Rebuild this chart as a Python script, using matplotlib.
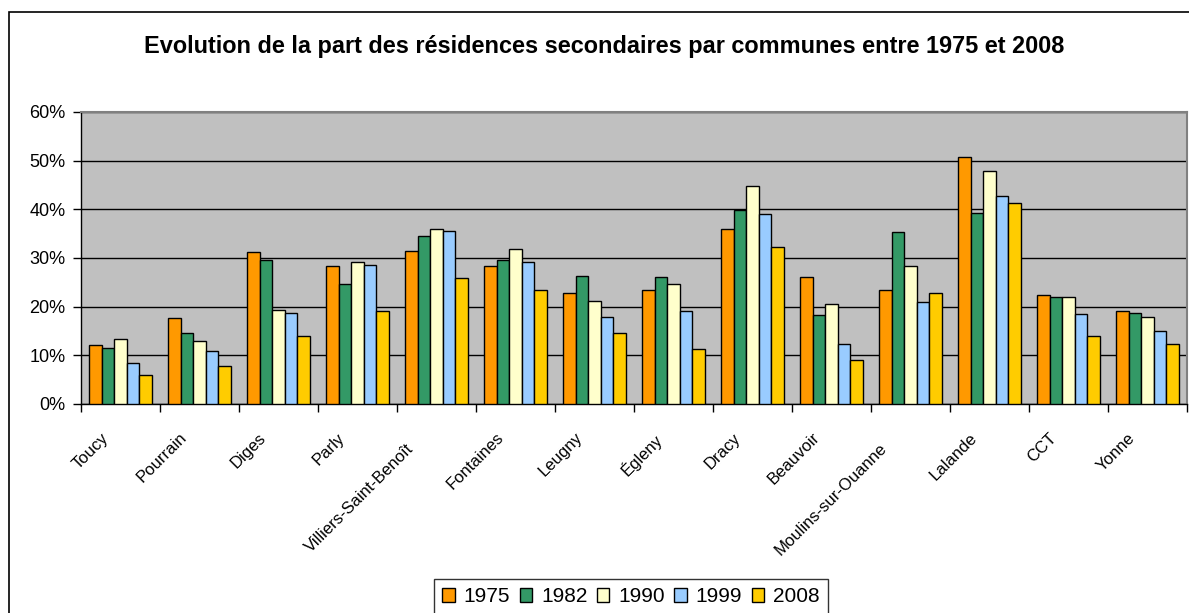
import numpy as np
import matplotlib
matplotlib.use("Agg")
import matplotlib.pyplot as plt
from matplotlib.patches import Rectangle
from matplotlib.transforms import ScaledTranslation
from matplotlib.ticker import PercentFormatter

plt.rcParams['font.family'] = ['Liberation Sans', 'DejaVu Sans']

communes = ["Toucy", "Pourrain", "Diges", "Parly", "Villiers-Saint-Benoît", "Fontaines",
            "Leugny", "Égleny", "Dracy", "Beauvoir", "Moulins-sur-Ouanne", "Lalande",
            "CCT", "Yonne"]
years = ["1975", "1982", "1990", "1999", "2008"]

# part des residences secondaires (%)
v1975 = [12.1, 17.6, 31.3, 28.3, 31.4, 28.3, 22.8, 23.4, 35.9, 26.1, 23.4, 50.8, 22.5, 19.1]
v1982 = [11.5, 14.6, 29.5, 24.6, 34.6, 29.5, 26.4, 26.1, 39.9, 18.2, 35.3, 39.2, 21.9, 18.8]
v1990 = [13.3, 13.0, 19.4, 29.2, 35.9, 31.9, 21.2, 24.6, 44.8, 20.6, 28.3, 47.8, 21.9, 17.9]
v1999 = [8.4, 10.8, 18.8, 28.6, 35.5, 29.2, 17.9, 19.1, 39.0, 12.3, 21.0, 42.7, 18.5, 15.1]
v2008 = [6.0, 7.8, 14.0, 19.1, 25.8, 23.4, 14.6, 11.4, 32.2, 9.0, 22.8, 41.4, 14.0, 12.4]

colors = ["#FF9900", "#339966", "#FFFFCC", "#99CCFF", "#FFCC00"]

W, H = 1189, 613
fig = plt.figure(figsize=(W / 100, H / 100), dpi=100)
ax = fig.add_axes([81 / W, (H - 404) / H, (1187 - 81) / W, (404 - 112) / H])
ax.set_facecolor("#C0C0C0")

series = [v1975, v1982, v1990, v1999, v2008]
x = np.arange(len(communes))
bw = 0.158
for i, (vals, c, yr) in enumerate(zip(series, colors, years)):
    ax.bar(x + (i - 2) * bw, vals, width=bw, color=c, edgecolor="black",
           linewidth=1.0, label=yr, zorder=3)

ax.set_xlim(-0.5, len(communes) - 0.5)
ax.set_ylim(0, 60)
ax.set_yticks(np.arange(0, 61, 10))
ax.yaxis.set_major_formatter(PercentFormatter(decimals=0))
ax.grid(axis="y", color="black", linewidth=1, zorder=1)
ax.set_axisbelow(True)

ax.set_xticks(x)
ax.set_xticklabels(communes, rotation=45, ha="right", va="top", rotation_mode="anchor", fontsize=12)
ax.set_xticks(np.arange(-0.5, len(communes), 1), minor=True)
ax.tick_params(axis="x", which="major", length=0, pad=0)
ax.tick_params(axis="x", which="minor", length=6, width=1, direction="out")
ax.tick_params(axis="y", length=6, width=1, direction="out", labelsize=13, pad=5)
for lab in ax.get_xticklabels():
    dx, dy = -20, -26
    # long labels sit further down along their slope
    if len(lab.get_text()) > 15:
        dx, dy = dx - 11, dy - 11
    lab.set_transform(lab.get_transform() + ScaledTranslation(dx / 100, dy / 100, fig.dpi_scale_trans))

for side in ["top", "right"]:
    ax.spines[side].set_color("#808080")
    ax.spines[side].set_linewidth(1.5)
for side in ["left", "bottom"]:
    ax.spines[side].set_color("black")
    ax.spines[side].set_linewidth(1)

fig.text(604.5 / W, (H - 53) / H,
         "Evolution de la part des résidences secondaires par communes entre 1975 et 2008",
         ha="center", va="baseline", fontsize=16.9, fontweight="bold")

leg = fig.legend(loc="upper center", bbox_to_anchor=(631 / W, (H - 579) / H), ncol=5,
                 fontsize=15, frameon=True, fancybox=False, handlelength=0.6, handleheight=0.6,
                 handletextpad=0.43, columnspacing=0.45, borderpad=0.4, borderaxespad=0)
leg.get_frame().set_edgecolor("black")
leg.get_frame().set_linewidth(1)

fig.patches.append(Rectangle((9 / W, -0.1), 1.2, (H - 12) / H + 0.1, transform=fig.transFigure,
                             fill=False, edgecolor="black", linewidth=1.2))

fig.savefig("out.png", dpi=100)
